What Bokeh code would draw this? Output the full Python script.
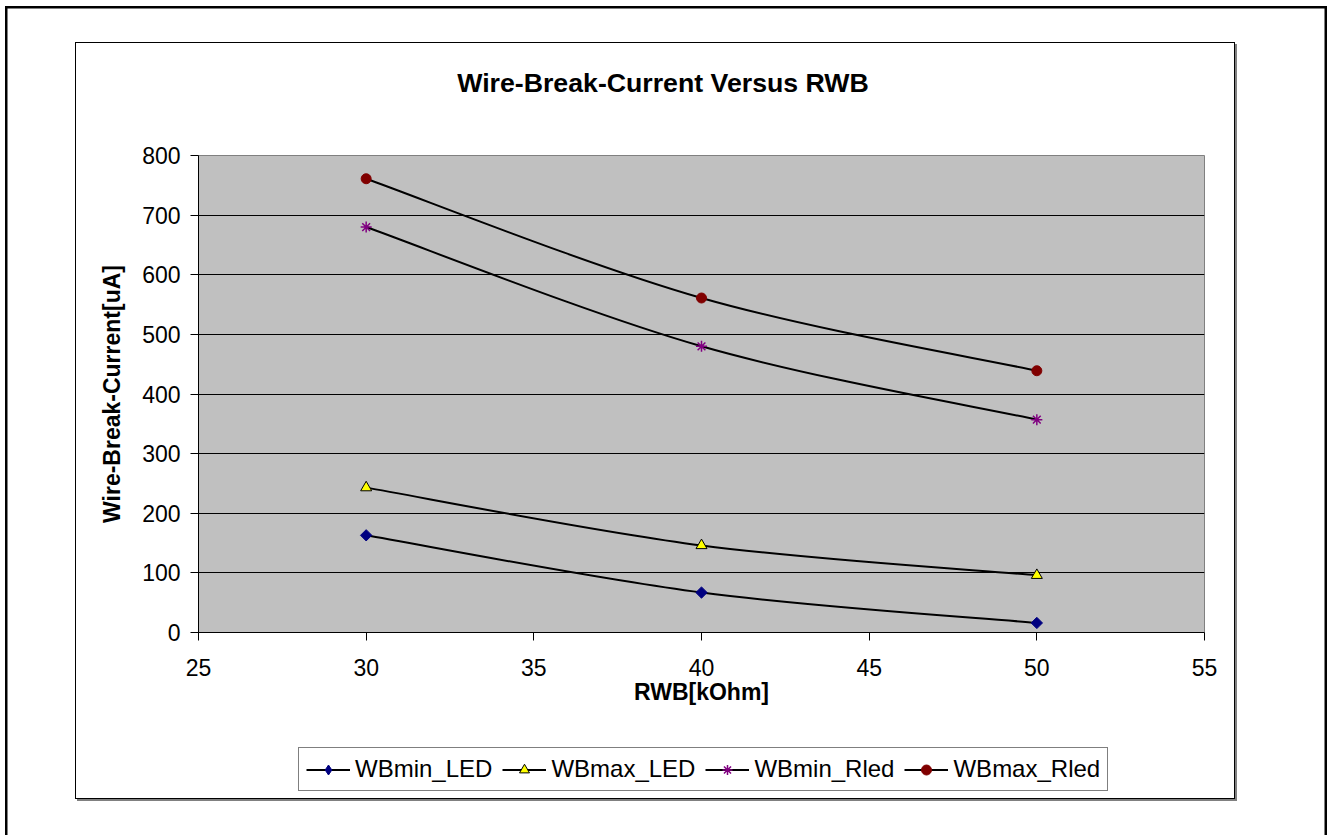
from bokeh.plotting import figure
from bokeh.layouts import column
from bokeh.models import Range1d, FixedTicker, Legend, LegendItem, ColumnDataSource, Label
from bokeh.embed import file_html
from bokeh.resources import INLINE
from math import pi

# ---- data ----
rwb = [30, 40, 50]
wbmin_led = [163, 67, 16]
wbmax_led = [243, 146, 96]
wbmin_rled = [680, 480, 357]
wbmax_rled = [761, 561, 439]
series_names = ["WBmin_LED", "WBmax_LED", "WBmin_Rled", "WBmax_Rled"]
x_ticks = [25, 30, 35, 40, 45, 50, 55]
y_ticks = [0, 100, 200, 300, 400, 500, 600, 700, 800]
title_text = "Wire-Break-Current Versus RWB"
x_label = "RWB[kOhm]"
y_label = "Wire-Break-Current[uA]"

FONT = "Liberation Sans"
# chart-area box (inner border) on the page
BOX_L, BOX_T, BOX_R, BOX_B = 76, 43, 1234, 798
W, H = BOX_R - BOX_L, BOX_B - BOX_T
# plot frame on the page
FR_L, FR_T, FR_R, FR_B = 198, 155, 1204, 632
TOP_SPLIT = 120      # page y where the plot figure starts (title strip above)
SPLIT = 740          # page y where the legend strip starts
LEG_L, LEG_B = 298, 791
TITLE_X, TITLE_BASE = 662.5, 82


def strip(height):
    f = figure(width=W, height=height, x_range=Range1d(0, 1), y_range=Range1d(0, 1),
               x_axis_type=None, y_axis_type=None, output_backend="svg", toolbar_location=None,
               min_border=0, min_border_left=0, min_border_right=0, min_border_top=0,
               min_border_bottom=0)
    f.grid.visible = False
    f.outline_line_color = None
    f.background_fill_color = "white"
    f.border_fill_color = "white"
    f.title.visible = False
    return f

# ---- title strip ----
title_fig = strip(TOP_SPLIT - BOX_T)
title_fig.add_layout(Label(x=TITLE_X - FR_L, y=TOP_SPLIT - TITLE_BASE, x_units="screen", y_units="screen",
                           text=title_text, text_align="center", text_baseline="alphabetic",
                           text_font=FONT, text_font_size="26.7px", text_font_style="bold",
                           text_color="black"))

# ---- main plot ----
p = figure(width=W, height=SPLIT - TOP_SPLIT, x_range=Range1d(x_ticks[0], x_ticks[-1]),
           y_range=Range1d(y_ticks[0], y_ticks[-1]),
           output_backend="svg", toolbar_location=None,
           min_border_left=FR_L - BOX_L, min_border_right=BOX_R - FR_R,
           min_border_top=FR_T - TOP_SPLIT, min_border_bottom=SPLIT - FR_B)
p.title.visible = False
p.background_fill_color = "#C0C0C0"
p.border_fill_color = "white"
p.outline_line_color = "#808080"
p.outline_line_width = 1

p.xgrid.visible = False
p.ygrid.ticker = FixedTicker(ticks=y_ticks)
p.ygrid.grid_line_color = "black"
p.ygrid.grid_line_width = 1

for ax in (p.xaxis[0], p.yaxis[0]):
    ax.major_tick_in = 0
    ax.major_tick_out = 8
    ax.minor_tick_line_color = None
    ax.axis_line_color = "black"
    ax.major_tick_line_color = "black"
    ax.major_label_text_font = FONT
    ax.major_label_text_font_size = "23px"
    ax.major_label_text_color = "black"
    ax.axis_label_text_font = FONT
    ax.axis_label_text_font_size = "23px"
    ax.axis_label_text_font_style = "bold"
    ax.axis_label_text_color = "black"

p.xaxis.ticker = FixedTicker(ticks=x_ticks)
p.yaxis.ticker = FixedTicker(ticks=y_ticks)
p.xaxis.axis_label = x_label
p.yaxis.axis_label = y_label
p.xaxis.major_label_standoff = 18
p.yaxis.major_label_standoff = 10
p.xaxis.axis_label_standoff = 0
p.yaxis.axis_label_standoff = 14


def smooth_segments(xs, ys):
    n = len(xs)
    out = dict(x0=[], y0=[], x1=[], y1=[], cx0=[], cy0=[], cx1=[], cy1=[])
    for i in range(n - 1):
        a = i - 1 if i > 0 else i
        d = i + 2 if i + 2 < n else i + 1
        out["x0"].append(xs[i]); out["y0"].append(ys[i])
        out["x1"].append(xs[i + 1]); out["y1"].append(ys[i + 1])
        out["cx0"].append(xs[i] + (xs[i + 1] - xs[a]) / 6.0)
        out["cy0"].append(ys[i] + (ys[i + 1] - ys[a]) / 6.0)
        out["cx1"].append(xs[i + 1] - (xs[d] - xs[i]) / 6.0)
        out["cy1"].append(ys[i + 1] - (ys[d] - ys[i]) / 6.0)
    return out

series = [wbmin_led, wbmax_led, wbmin_rled, wbmax_rled]
styles = [
    dict(marker="square", size=8, angle=pi / 4, fill_color="#000080", line_color="#000080", line_width=1),
    dict(marker="triangle", size=11, angle=0, fill_color="#FFFF00", line_color="black", line_width=1),
    dict(marker="asterisk", size=11, angle=0, fill_color=None, line_color="#800080", line_width=1.5),
    dict(marker="circle", size=10, angle=0, fill_color="#800000", line_color="#800000", line_width=1),
]
legend_markers = ["diamond", "triangle", "asterisk", "circle"]
legend_sizes = [13, 11, 11, 10]

# ---- legend strip: its frame holds the legend (series data lie outside its ranges) ----
leg_fig = strip(BOX_B - SPLIT)

items = []
for name, ys, st, lm, ls in zip(series_names, series, styles, legend_markers, legend_sizes):
    src = ColumnDataSource(smooth_segments(rwb, ys))
    p.bezier(x0="x0", y0="y0", x1="x1", y1="y1", cx0="cx0", cy0="cy0", cx1="cx1", cy1="cy1",
             source=src, line_color="black", line_width=2)
    p.scatter(x=rwb, y=ys, **st)
    lst = dict(st)
    lst.update(marker=lm, size=ls, angle=0)
    l_line = leg_fig.line(x=rwb, y=ys, line_color="black", line_width=2)
    l_mark = leg_fig.scatter(x=rwb, y=ys, **lst)
    items.append(LegendItem(label=name, renderers=[l_line, l_mark]))

legend = Legend(items=items, orientation="horizontal",
                location=(LEG_L - FR_L, BOX_B - LEG_B),
                border_line_color="black", border_line_width=1,
                background_fill_color="white", background_fill_alpha=1,
                label_text_font=FONT, label_text_font_size="24px", label_text_color="black",
                glyph_width=44, glyph_height=25, label_height=25, label_standoff=5,
                spacing=10, padding=7, margin=0)
leg_fig.add_layout(legend, "center")

root = column(title_fig, p, leg_fig, spacing=0, width=W, height=H)
root.margin = (BOX_T, 0, 0, BOX_L)
# inner border with drop shadow, and the outer page border (left/top/right)
root.styles = {"box-shadow": "0 0 0 1px #000000, 2px 2px 0 1px #808080, "
                             "11px 45px 0 79.5px #ffffff, 11px 45px 0 82px #000000",
               "background-color": "#ffffff"}

open("out.html", "w").write(file_html(root, INLINE))
